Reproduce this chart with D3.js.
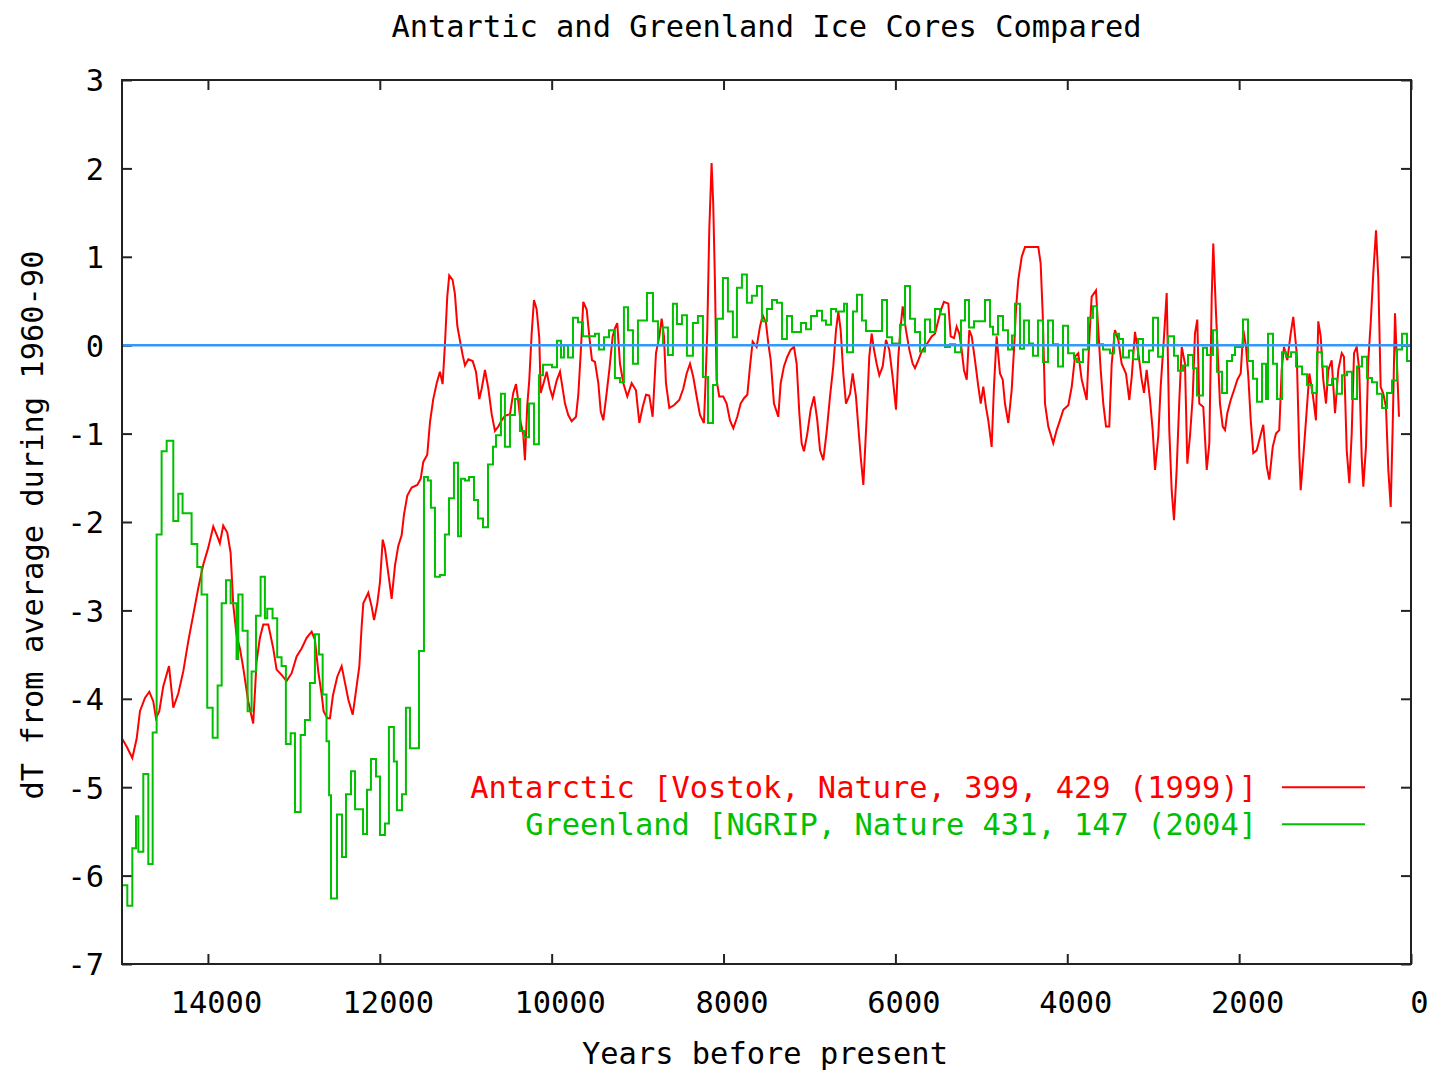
<!DOCTYPE html>
<html>
<head>
<meta charset="utf-8">
<script src="https://cdn.jsdelivr.net/npm/d3@7"></script>
<style>
  html, body { margin: 0; padding: 0; background: #fff; }
  svg { display: block; }
  text { font-family: "DejaVu Sans Mono", "Liberation Mono", monospace; font-size: 30.4px; fill: #000; }
</style>
</head>
<body>
<svg id="chart" width="1433" height="1072"></svg>
<script>
// ---------- DATA ----------
const titleText = "Antartic and Greenland Ice Cores Compared";
const xLabelText = "Years before present";
const yLabelText = "dT from average during 1960-90";
const xTicks = [14000, 12000, 10000, 8000, 6000, 4000, 2000, 0];
const yTicks = [-7, -6, -5, -4, -3, -2, -1, 0, 1, 2, 3];
const seriesNames = ["Antarctic [Vostok, Nature, 399, 429 (1999)]", "Greenland [NGRIP, Nature 431, 147 (2004]"];

// Antarctic (Vostok) : [years before present, dT]
const vostok = [[15000,-4.45],[14946,-4.54],[14880,-4.67],[14829,-4.45],[14791,-4.14],[14733,-3.99],[14682,-3.92],[14636,-4.03],[14605,-4.22],[14566,-4.14],[14520,-3.86],[14453,-3.63],[14422,-3.92],[14403,-4.1],[14345,-3.94],[14287,-3.69],[14229,-3.35],[14171,-3.05],[14113,-2.75],[14054,-2.48],[13996,-2.29],[13938,-2.05],[13892,-2.16],[13861,-2.24],[13822,-2.04],[13775,-2.12],[13736,-2.35],[13705,-2.94],[13667,-3.28],[13628,-3.43],[13589,-3.65],[13531,-4.03],[13473,-4.28],[13434,-3.58],[13395,-3.31],[13356,-3.16],[13298,-3.16],[13240,-3.43],[13201,-3.67],[13143,-3.73],[13085,-3.8],[13026,-3.71],[12968,-3.52],[12910,-3.43],[12851,-3.31],[12793,-3.24],[12755,-3.33],[12716,-3.69],[12677,-3.95],[12654,-4.14],[12611,-4.22],[12580,-4.22],[12545,-3.96],[12495,-3.75],[12444,-3.63],[12405,-3.82],[12366,-4.01],[12315,-4.18],[12277,-3.91],[12238,-3.63],[12211,-3.18],[12192,-2.92],[12134,-2.8],[12094,-2.96],[12067,-3.11],[12029,-2.92],[11998,-2.68],[11966,-2.2],[11940,-2.3],[11901,-2.58],[11862,-2.87],[11823,-2.49],[11785,-2.27],[11746,-2.15],[11719,-1.92],[11680,-1.7],[11629,-1.61],[11564,-1.58],[11524,-1.51],[11494,-1.32],[11448,-1.24],[11416,-0.87],[11378,-0.61],[11338,-0.43],[11300,-0.3],[11269,-0.44],[11242,0.01],[11215,0.55],[11192,0.79],[11153,0.74],[11126,0.58],[11098,0.22],[11067,0.05],[11036,-0.11],[11009,-0.23],[10970,-0.16],[10919,-0.18],[10881,-0.3],[10842,-0.61],[10814,-0.49],[10776,-0.28],[10737,-0.49],[10698,-0.78],[10660,-0.97],[10621,-0.92],[10582,-0.85],[10544,-0.8],[10485,-0.78],[10447,-0.54],[10415,-0.44],[10389,-0.63],[10361,-0.87],[10331,-1.01],[10311,-1.3],[10284,-0.68],[10261,-0.4],[10233,0.13],[10206,0.51],[10175,0.41],[10144,0.08],[10128,-0.54],[10097,-0.44],[10058,-0.3],[10020,-0.49],[9989,-0.59],[9942,-0.4],[9903,-0.3],[9845,-0.66],[9807,-0.79],[9767,-0.86],[9717,-0.81],[9690,-0.56],[9662,-0.09],[9632,0.49],[9592,0.4],[9562,0.1],[9531,-0.17],[9496,-0.19],[9457,-0.43],[9429,-0.75],[9399,-0.85],[9360,-0.54],[9329,-0.28],[9290,0.1],[9264,0.19],[9237,0.25],[9205,-0.21],[9166,-0.43],[9120,-0.58],[9069,-0.43],[9019,-0.51],[8980,-0.88],[8941,-0.7],[8902,-0.56],[8864,-0.57],[8825,-0.81],[8786,-0.09],[8747,0.1],[8720,0.3],[8693,0.1],[8670,-0.43],[8631,-0.71],[8577,-0.68],[8515,-0.62],[8468,-0.49],[8429,-0.32],[8390,-0.21],[8352,-0.36],[8313,-0.58],[8274,-0.79],[8228,-0.88],[8213,-0.51],[8189,0.17],[8166,1.3],[8139,2.06],[8120,1.6],[8100,0.72],[8081,-0.39],[8050,-0.58],[8003,-0.58],[7964,-0.66],[7925,-0.85],[7886,-0.94],[7840,-0.81],[7801,-0.66],[7762,-0.6],[7723,-0.56],[7692,-0.24],[7661,0.04],[7615,-0.02],[7576,0.21],[7544,0.34],[7506,0.25],[7479,0.02],[7451,-0.17],[7413,-0.66],[7363,-0.81],[7335,-0.43],[7297,-0.24],[7258,-0.13],[7218,-0.05],[7180,-0.02],[7149,-0.21],[7118,-0.77],[7091,-1.11],[7064,-1.2],[7025,-1.0],[6986,-0.73],[6947,-0.58],[6909,-0.85],[6877,-1.19],[6839,-1.3],[6800,-0.98],[6761,-0.58],[6723,-0.24],[6691,0.17],[6664,0.38],[6637,0.17],[6606,-0.32],[6575,-0.66],[6528,-0.55],[6497,-0.32],[6459,-0.58],[6432,-0.92],[6404,-1.26],[6373,-1.58],[6334,-0.81],[6304,-0.13],[6276,0.13],[6249,-0.05],[6218,-0.21],[6187,-0.34],[6148,-0.24],[6110,0.06],[6071,-0.05],[6032,-0.36],[5993,-0.73],[5966,-0.13],[5939,0.21],[5915,0.44],[5877,0.17],[5838,-0.05],[5799,-0.21],[5772,-0.26],[5733,-0.17],[5694,-0.07],[5656,-0.02],[5617,0.04],[5578,0.1],[5539,0.13],[5501,0.28],[5462,0.42],[5435,0.49],[5384,0.47],[5357,0.1],[5318,0.08],[5287,0.21],[5256,0.13],[5229,-0.05],[5202,-0.28],[5170,-0.39],[5140,0.17],[5112,0.1],[5074,-0.17],[5035,-0.47],[5007,-0.66],[4977,-0.47],[4946,-0.7],[4919,-0.85],[4880,-1.15],[4853,-0.47],[4822,0.1],[4783,-0.32],[4751,-0.39],[4725,-0.66],[4686,-0.88],[4647,-0.51],[4620,-0.05],[4597,0.4],[4570,0.74],[4530,1.0],[4492,1.11],[4337,1.11],[4310,0.93],[4286,0.36],[4259,-0.66],[4221,-0.92],[4163,-1.11],[4123,-0.96],[4085,-0.85],[4046,-0.73],[3988,-0.68],[3948,-0.47],[3910,-0.13],[3872,-0.09],[3832,-0.39],[3774,-0.62],[3744,0.06],[3716,0.55],[3666,0.62],[3639,0.17],[3611,-0.28],[3581,-0.66],[3549,-0.92],[3511,-0.92],[3483,-0.21],[3445,0.17],[3406,0.06],[3367,-0.21],[3317,-0.32],[3278,-0.62],[3250,-0.36],[3212,0.15],[3173,-0.09],[3134,-0.39],[3107,-0.54],[3076,-0.28],[3037,-0.62],[3006,-0.96],[2979,-1.41],[2941,-1.03],[2913,-0.47],[2874,0.1],[2843,0.59],[2813,-0.96],[2785,-1.64],[2758,-1.98],[2727,-1.41],[2696,-0.62],[2668,-0.02],[2630,-0.21],[2603,-1.34],[2572,-1.03],[2540,-0.58],[2514,0.13],[2487,0.29],[2464,-0.66],[2417,-0.7],[2377,-1.41],[2347,-1.11],[2319,0.55],[2301,1.15],[2269,0.36],[2223,-0.66],[2191,-0.92],[2164,-0.96],[2138,-0.77],[2098,-0.62],[2060,-0.51],[2021,-0.39],[1982,-0.32],[1951,0.17],[1920,-0.02],[1893,-0.36],[1865,-0.85],[1835,-1.22],[1796,-1.19],[1757,-1.04],[1719,-0.9],[1679,-1.37],[1649,-1.52],[1609,-1.15],[1571,-1.0],[1533,-0.96],[1505,-0.28],[1478,-0.02],[1439,-0.17],[1400,0.13],[1370,0.32],[1330,-0.09],[1300,-1.22],[1284,-1.64],[1253,-1.26],[1222,-0.85],[1183,-0.32],[1144,-0.55],[1106,-0.85],[1079,0.27],[1051,0.1],[1021,-0.39],[989,-0.66],[962,-0.28],[923,-0.17],[884,-0.77],[846,-0.28],[806,-0.09],[780,-0.13],[748,-1.19],[718,-1.56],[690,-1.0],[663,-0.09],[632,-0.02],[602,-0.28],[574,-1.26],[555,-1.6],[524,-1.15],[497,-0.17],[469,0.25],[439,0.81],[407,1.3],[381,0.77],[353,-0.47],[322,-0.55],[291,-0.7],[264,-1.41],[236,-1.83],[213,-0.92],[186,0.36],[166,-0.13],[140,-0.81]];

// Greenland (NGRIP) step series: start year of each step and its dT
const ngripYears = [15000,14938,14880,14837,14810,14752,14694,14643,14597,14539,14480,14403,14345,14295,14190,14124,14074,14008,13945,13887,13840,13790,13736,13667,13647,13597,13538,13492,13441,13387,13337,13310,13248,13194,13143,13093,13037,12987,12921,12871,12813,12755,12708,12665,12620,12590,12568,12498,12440,12393,12335,12288,12195,12149,12103,12044,11998,11940,11894,11836,11801,11742,11696,11649,11544,11486,11440,11405,11358,11300,11242,11195,11137,11090,11055,11009,10962,10904,10857,10799,10741,10683,10648,10590,10544,10485,10427,10369,10322,10264,10206,10148,10101,9996,9938,9891,9857,9810,9752,9694,9636,9496,9450,9391,9333,9264,9205,9159,9112,9054,8996,8891,8821,8763,8705,8647,8589,8542,8484,8426,8356,8298,8240,8181,8123,8077,8007,7949,7891,7844,7786,7728,7670,7611,7553,7495,7436,7378,7320,7262,7203,7099,7040,6982,6912,6854,6808,6749,6691,6598,6563,6493,6447,6389,6342,6156,6098,6040,5947,5888,5830,5772,5714,5656,5597,5539,5481,5423,5365,5306,5237,5190,5144,5085,4957,4899,4864,4806,4748,4690,4643,4608,4550,4504,4445,4399,4341,4282,4224,4166,4108,4050,3991,3922,3887,3817,3759,3701,3654,3584,3503,3456,3398,3351,3282,3235,3177,3119,3049,3002,2944,2886,2828,2758,2711,2653,2595,2537,2490,2421,2374,2304,2258,2199,2141,2083,2048,1955,1897,1839,1792,1734,1687,1664,1606,1559,1501,1455,1396,1338,1268,1210,1152,1094,1036,978,919,861,803,745,687,628,570,512,454,396,337,279,221,163,105,47,0];
const ngripDT = [-6.11,-6.34,-5.69,-5.33,-5.73,-4.85,-5.87,-4.38,-2.14,-1.2,-1.08,-1.99,-1.68,-1.9,-2.25,-2.51,-2.82,-4.1,-4.44,-3.85,-2.92,-2.66,-2.92,-3.55,-2.82,-3.23,-4.14,-3.69,-3.06,-2.62,-3.09,-2.98,-3.09,-3.53,-3.63,-4.51,-4.39,-5.28,-4.41,-4.24,-3.82,-3.27,-3.5,-3.95,-4.48,-5.09,-6.26,-5.31,-5.79,-5.08,-4.82,-5.25,-5.53,-5.03,-4.68,-4.88,-5.54,-5.41,-4.32,-4.71,-5.26,-5.08,-4.1,-4.56,-3.46,-1.49,-1.53,-1.84,-2.62,-2.6,-2.14,-1.73,-1.33,-2.16,-1.51,-1.53,-1.49,-1.75,-1.96,-2.06,-1.35,-1.15,-1.02,-0.55,-1.15,-0.79,-0.61,-0.97,-1.04,-0.66,-1.12,-0.34,-0.22,-0.25,0.05,-0.14,0,-0.14,0.31,0.26,0.1,0.13,-0.05,0.09,0.17,-0.37,-0.42,0.43,0.17,-0.21,0.28,0.59,0.27,0,0.2,-0.11,0.47,0.24,0.34,-0.12,0.25,0.33,-0.36,-0.88,-0.45,0.3,0.76,0.38,0.09,0.65,0.8,0.48,0.56,0.67,0.27,0.41,0.51,0.48,0.07,0.33,0.15,0.25,0.18,0.33,0.39,0.28,0.23,0.41,0.38,0.47,-0.08,0.38,0.57,0.28,0.16,0.51,0.09,0.02,0.23,0.67,0.3,0.15,-0.07,0.29,0.15,0.41,0.35,-0.02,0.01,-0.08,0.28,0.51,0.2,0.27,0.51,0.21,0.12,0.33,0.17,-0.05,0.11,0.47,-0.04,0.28,0.02,-0.12,0.28,-0.19,0.28,0.01,-0.24,0.22,-0.09,-0.15,-0.19,-0.05,0.31,0.44,0.01,-0.05,-0.09,0.13,0.07,-0.14,-0.06,-0.16,0.07,-0.19,-0.06,0.31,-0.13,0,0.1,-0.12,-0.29,-0.23,-0.11,-0.26,-0.57,-0.03,-0.11,0.17,-0.3,-0.54,-0.18,-0.11,-0.02,0.29,-0.18,-0.38,-0.64,-0.21,-0.61,0.13,-0.21,-0.61,-0.08,-0.13,-0.08,-0.24,-0.33,-0.45,-0.54,-0.08,-0.24,-0.45,-0.38,-0.55,-0.34,-0.3,-0.61,-0.24,-0.13,-0.37,-0.42,-0.55,-0.71,-0.54,-0.4,-0.05,0.13,-0.18,-0.18];
const referenceLevel = [0];

// ---------- LAYOUT ----------
const svg = d3.select("#chart");
const plot = { left: 122, right: 1411, top: 80, bottom: 964 };
const x = d3.scaleLinear().domain([15000, 0]).range([plot.left, plot.right]);
const y = d3.scaleLinear().domain([-7, 3]).range([plot.bottom, plot.top]);
const colors = { red: "#ff0000", green: "#00c000", blue: "#3399ff", axis: "#222" };

// Title
svg.append("text").attr("x", (plot.left + plot.right) / 2).attr("y", 37)
  .attr("text-anchor", "middle").text(titleText);

// Axis labels
svg.append("text").attr("x", 765).attr("y", 1064).attr("text-anchor", "middle").text(xLabelText);
svg.append("text").attr("transform", "translate(43," + ((plot.top + plot.bottom) / 2 + 3) + ") rotate(-90)")
  .attr("text-anchor", "middle").text(yLabelText);

// Axes with d3 axis generators (inward ticks, mirrored)
const tickLen = 10;
const gBottom = svg.append("g").attr("transform", `translate(0,${plot.bottom})`)
  .call(d3.axisBottom(x).tickValues(xTicks).tickSizeInner(-tickLen).tickSizeOuter(0).tickPadding(26).tickFormat(d => String(d)));
const gTop = svg.append("g").attr("transform", `translate(0,${plot.top})`)
  .call(d3.axisTop(x).tickValues(xTicks).tickSizeInner(-tickLen).tickSizeOuter(0).tickFormat(""));
const gLeft = svg.append("g").attr("transform", `translate(${plot.left},0)`)
  .call(d3.axisLeft(y).tickValues(yTicks).tickSizeInner(-tickLen).tickSizeOuter(0).tickPadding(18).tickFormat(d => String(d)));
const gRight = svg.append("g").attr("transform", `translate(${plot.right},0)`)
  .call(d3.axisRight(y).tickValues(yTicks).tickSizeInner(-tickLen).tickSizeOuter(0).tickFormat(""));

[gBottom, gTop, gLeft, gRight].forEach(g => {
  g.select(".domain").remove();
  g.selectAll(".tick line").attr("stroke", colors.axis).attr("stroke-width", 2);
  g.selectAll("text").attr("font-family", null).attr("font-size", null).attr("fill", "#000");
});
gBottom.selectAll(".tick text").attr("dy", null).attr("y", 49).attr("dx", 8);
gLeft.selectAll(".tick text").attr("dy", "0.36em").attr("x", -18);

// Series
const lineVostok = d3.line().x(d => x(d[0])).y(d => y(d[1]));
const ngrip = ngripYears.map((yr, i) => [yr, ngripDT[i]]);
const lineNgrip = d3.line().x(d => x(d[0])).y(d => y(d[1])).curve(d3.curveStepAfter);

svg.append("path").datum(vostok).attr("d", lineVostok)
  .attr("fill", "none").attr("stroke", colors.red).attr("stroke-width", 2).attr("stroke-linejoin", "miter");
svg.append("path").datum(ngrip).attr("d", lineNgrip)
  .attr("fill", "none").attr("stroke", colors.green).attr("stroke-width", 2);

// zero reference line
svg.selectAll("line.ref").data(referenceLevel).enter().append("line").attr("class", "ref")
  .attr("x1", plot.left).attr("x2", plot.right)
  .attr("y1", d => y(d)).attr("y2", d => y(d))
  .attr("stroke", colors.blue).attr("stroke-width", 2.5);

// Frame
svg.append("rect").attr("x", plot.left).attr("y", plot.top)
  .attr("width", plot.right - plot.left).attr("height", plot.bottom - plot.top)
  .attr("fill", "none").attr("stroke", colors.axis).attr("stroke-width", 2);

// Legend
const legend = [
  { name: seriesNames[0], color: colors.red, yv: -5 },
  { name: seriesNames[1], color: colors.green, yv: -5.42 }
];
const lg = svg.append("g");
legend.forEach(l => {
  const ly = y(l.yv);
  lg.append("text").attr("x", 1257).attr("y", ly).attr("dy", "0.36em")
    .attr("text-anchor", "end").attr("fill", l.color).style("fill", l.color).text(l.name);
  lg.append("line").attr("x1", 1282).attr("x2", 1365).attr("y1", ly).attr("y2", ly)
    .attr("stroke", l.color).attr("stroke-width", 2);
});
</script>
</body>
</html>
